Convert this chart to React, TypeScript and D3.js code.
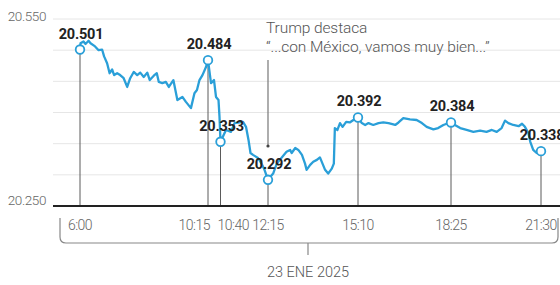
import React from 'react'
import * as d3 from 'd3'

// peso-dólar, 23 ene 2025
const seriesTimes = [
  '6:00', '6:01', '6:07', '6:11', '6:17', '6:21', '6:30', '6:37', '6:44', '6:48', '6:54', '6:59',
  '7:04', '7:08', '7:14', '7:20', '7:27', '7:34', '7:40', '7:47', '7:54', '8:00', '8:07', '8:14',
  '8:19', '8:27', '8:33', '8:37', '8:44', '8:51', '8:57', '9:06', '9:14', '9:24', '9:31', '9:41',
  '9:48', '9:53', '9:58', '10:04', '10:11', '10:15', '10:21', '10:27', '10:31', '10:36', '10:38',
  '10:40', '10:51', '11:01', '11:08', '11:25', '11:31', '11:36', '11:40', '11:45', '11:55', '12:02',
  '12:08', '12:15', '12:25', '12:32', '12:51', '12:58', '13:01', '13:08', '13:14', '13:21', '13:27',
  '13:30', '13:37', '13:43', '13:50', '13:56', '14:01', '14:06', '14:12', '14:19', '14:23', '14:25',
  '14:30', '14:35', '14:40', '14:47', '14:54', '15:01', '15:10', '15:18', '15:25', '15:32', '15:42',
  '15:53', '16:03', '16:14', '16:28', '16:35', '16:45', '16:59', '17:13', '17:24', '17:34', '17:48',
  '17:58', '18:09', '18:16', '18:25', '18:33', '18:44', '18:57', '19:11', '19:25', '19:38', '19:49',
  '19:59', '20:09', '20:16', '20:23', '20:33', '20:44', '20:51', '20:57', '21:04', '21:08', '21:14',
  '21:21', '21:30',
]
const seriesValues = [
  20.501, 20.511, 20.514, 20.51, 20.515, 20.511, 20.506, 20.5, 20.501, 20.49, 20.479, 20.463,
  20.469, 20.46, 20.463, 20.46, 20.455, 20.441, 20.455, 20.465, 20.46, 20.464, 20.457, 20.464,
  20.452, 20.459, 20.463, 20.449, 20.447, 20.449, 20.441, 20.452, 20.42, 20.425, 20.417, 20.407,
  20.431, 20.436, 20.452, 20.46, 20.473, 20.484, 20.447, 20.452, 20.425, 20.42, 20.393,
  20.353, 20.372, 20.369, 20.383, 20.385, 20.377, 20.356, 20.335, 20.332, 20.327, 20.318,
  20.308, 20.292, 20.302, 20.318, 20.337, 20.34, 20.335, 20.343, 20.34, 20.332, 20.318,
  20.308, 20.316, 20.321, 20.324, 20.328, 20.318, 20.308, 20.302, 20.31, 20.318, 20.375,
  20.372, 20.383, 20.377, 20.385, 20.384, 20.388, 20.392, 20.383, 20.38, 20.383, 20.38,
  20.383, 20.384, 20.383, 20.38, 20.384, 20.391, 20.389, 20.388, 20.383, 20.377, 20.373,
  20.375, 20.38, 20.382, 20.384, 20.38, 20.375, 20.372, 20.369, 20.371, 20.369, 20.372,
  20.369, 20.375, 20.387, 20.383, 20.38, 20.378, 20.382, 20.377, 20.367, 20.353, 20.34,
  20.335, 20.338,
]

const keyTimes = ['6:00', '10:15', '10:40', '12:15', '15:10', '18:25', '21:30']
const keyValues = [20.501, 20.484, 20.353, 20.292, 20.392, 20.384, 20.338]
// horas que anclan la escala por tramos
const scaleTimes = ['6:00', '10:15', '12:15', '15:10', '18:25', '21:30']

const gridValues = [20.3, 20.35, 20.4, 20.45, 20.5, 20.55]
const axisLabels = ['20.550', '20.250']
const annotationTime = '12:15'
const annotationLines = ['Trump destaca', '“...con México, vamos muy bien...”']
const dateLabel = '23 ENE 2025'

const W = 560
const H = 285
const plotLeft = 53
const plotTop = 19
const plotBottom = 206
const blue = '#2a9fd8'
const font = 'Roboto, "Noto Sans", sans-serif'

const parse = d3.timeParse('%H:%M')

export default function App() {
  // las horas marcadas no están espaciadas de forma uniforme
  const x = d3
    .scaleTime()
    .domain(scaleTimes.map((t) => parse(t) as Date))
    .range([80, 208, 268, 358, 451, 541])
  const y = d3.scaleLinear().domain([20.25, 20.55]).range([plotBottom, plotTop])

  const points = seriesTimes.map((t, i) => ({ date: parse(t) as Date, value: seriesValues[i] }))
  const line = d3
    .line<{ date: Date; value: number }>()
    .x((d) => x(d.date))
    .y((d) => y(d.value))

  const keyPts = keyTimes.map((t, i) => ({ t, date: parse(t) as Date, value: keyValues[i] }))

  const anchorFor = (t: string) => (t === '10:15' ? 'end' : t === '10:40' ? 'start' : 'middle')
  const dxFor = (t: string) => (t === '10:15' ? 2 : t === '10:40' ? -3 : 0)

  const ax = x(parse(annotationTime) as Date)
  const bx0 = 60
  const bx1 = 558
  const bTop = 218
  const bBot = 243
  const r = 6
  const bMid = 308
  const bracket = `M${bx0},${bTop} V${bBot - r} Q${bx0},${bBot} ${bx0 + r},${bBot} H${bx1 - r} Q${bx1},${bBot} ${bx1},${bBot - r} V${bTop}`

  return (
    <div style={{ position: 'absolute', left: 0, top: 0 }}>
      <svg width={W} height={H} style={{ display: 'block', background: '#fff' }} fontFamily={font}>
        {gridValues.map((v) => (
          <line key={v} x1={plotLeft} x2={W} y1={y(v)} y2={y(v)} stroke="#e6e6e6" strokeWidth={1} />
        ))}
        <text x={46} y={y(20.55) - 2} textAnchor="end" dominantBaseline="middle" fontSize={13.5} fill="#666" fontWeight={300} letterSpacing={-0.4}>
          {axisLabels[0]}
        </text>
        <text x={46} y={y(20.25) - 5} textAnchor="end" dominantBaseline="middle" fontSize={13.5} fill="#666" fontWeight={300} letterSpacing={-0.4}>
          {axisLabels[1]}
        </text>

        {keyPts.map((p) => (
          <line key={p.t} x1={x(p.date)} x2={x(p.date)} y1={y(p.value) + 4} y2={plotBottom} stroke="#5a5a5a" strokeWidth={1} />
        ))}

        <line x1={ax} x2={ax} y1={60} y2={146} stroke="#777" strokeWidth={1.2} />
        <circle cx={ax} cy={146} r={1.6} fill="#444" />
        {annotationLines.map((s, i) => (
          <text key={s} x={266} y={33 + i * 19} fontSize={15.5} fill="#555" fontWeight={300} letterSpacing={-0.1}>
            {s}
          </text>
        ))}

        <path d={line(points) || ''} fill="none" stroke={blue} strokeWidth={2.3} strokeLinejoin="round" />

        {keyPts.map((p) => (
          <circle key={p.t} cx={x(p.date)} cy={y(p.value)} r={4.3} fill="#fff" stroke={blue} strokeWidth={1.8} />
        ))}
        {keyPts.map((p) => (
          <text
            key={p.t}
            x={x(p.date) + 1}
            y={y(p.value) - 11}
            textAnchor="middle"
            fontSize={14.5}
            fontWeight={700}
            fill="#222"
            letterSpacing={-0.2}
          >
            {p.value.toFixed(3)}
          </text>
        ))}

        <line x1={plotLeft} x2={W} y1={plotBottom} y2={plotBottom} stroke="#222" strokeWidth={2} />

        {keyPts.map((p) => (
          <text
            key={p.t}
            x={x(p.date) + dxFor(p.t)}
            y={230}
            textAnchor={anchorFor(p.t)}
            fontSize={14}
            fill="#666"
            fontWeight={300}
            letterSpacing={-0.5}
          >
            {p.t}
          </text>
        ))}

        <path d={bracket} fill="none" stroke="#888" strokeWidth={1.2} />
        <line x1={bMid} x2={bMid} y1={bBot} y2={255} stroke="#888" strokeWidth={1.2} />
        <text x={bMid} y={277} textAnchor="middle" fontSize={14.5} fill="#555" fontWeight={300}>
          {dateLabel}
        </text>
      </svg>
    </div>
  )
}
